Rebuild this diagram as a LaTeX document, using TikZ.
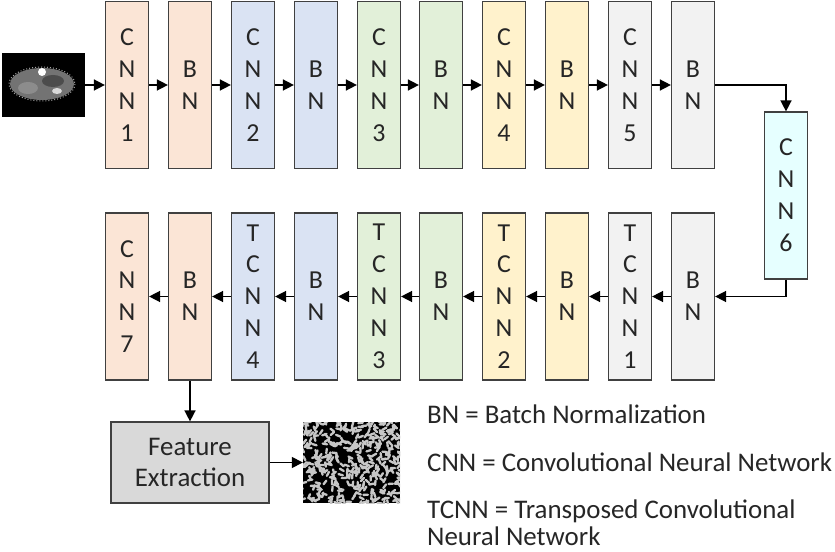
\documentclass[tikz,border=0pt]{standalone}
\usepackage{fontspec}
\setmainfont{Carlito}
\usetikzlibrary{arrows.meta}
\definecolor{peach}{HTML}{FBE5D6}
\definecolor{paleblue}{HTML}{DAE3F3}
\definecolor{palegreen}{HTML}{E2F0D9}
\definecolor{paleyellow}{HTML}{FFF2CC}
\definecolor{palegray}{HTML}{F2F2F2}
\definecolor{palecyan}{HTML}{E6FFFF}
\definecolor{featgray}{HTML}{D9D9D9}
\begin{document}
\begin{tikzpicture}[x=1bp,y=-1bp,
        blk/.style={draw=black!75,line width=1.2bp,minimum width=43bp,minimum height=167bp,
            inner sep=0pt,align=center,text=black!85,font=\fontsize{26}{32}\selectfont},
        arr/.style={-{Triangle[length=11bp,width=11bp]},line width=1.5bp},
        lgd/.style={anchor=base west,inner sep=0pt,text=black!85,font=\fontsize{27}{30}\selectfont}]
        \useasboundingbox (0,0) rectangle (835,552);

        % input slice
        \node[fill=black,minimum width=83bp,minimum height=64bp,inner sep=0pt] (ct) at (43.5,85) {};
        \fill[black!55] (42,84) ellipse (32 and 16);
        \draw[black!35,line width=1bp,dotted] (42,84) ellipse (33 and 17);
        \fill[black!70] (53,81) ellipse (11 and 6);
        \fill[black!45] (28,88) ellipse (10 and 6);
        \fill[white] (42,72) circle (4);
        \fill[black!15] (57,91) ellipse (5 and 3);

        % top row
        \node[blk,fill=peach] (cnnA) at (127,85) {C\\N\\N\\1};
        \node[blk,fill=peach] (bnA) at (190,85) {B\\N};
        \node[blk,fill=paleblue] (cnnB) at (253,85) {C\\N\\N\\2};
        \node[blk,fill=paleblue] (bnB) at (316,85) {B\\N};
        \node[blk,fill=palegreen] (cnnC) at (379,85) {C\\N\\N\\3};
        \node[blk,fill=palegreen] (bnC) at (441,85) {B\\N};
        \node[blk,fill=paleyellow] (cnnD) at (504,85) {C\\N\\N\\4};
        \node[blk,fill=paleyellow] (bnD) at (567,85) {B\\N};
        \node[blk,fill=palegray] (cnnE) at (630,85) {C\\N\\N\\5};
        \node[blk,fill=palegray] (bnE) at (693,85) {B\\N};

        \node[blk,fill=palecyan] (cnnF) at (786,195.5) {C\\N\\N\\6};

        % bottom row
        \node[blk,fill=palegray] (bnF) at (693,296.5) {B\\N};
        \node[blk,fill=palegray] (tcnnA) at (630,296.5) {T\\C\\N\\N\\1};
        \node[blk,fill=paleyellow] (bnG) at (567,296.5) {B\\N};
        \node[blk,fill=paleyellow] (tcnnB) at (504,296.5) {T\\C\\N\\N\\2};
        \node[blk,fill=palegreen] (bnH) at (441,296.5) {B\\N};
        \node[blk,fill=palegreen] (tcnnC) at (379,296.5) {T\\C\\N\\N\\3};
        \node[blk,fill=paleblue] (bnI) at (316,296.5) {B\\N};
        \node[blk,fill=paleblue] (tcnnD) at (253,296.5) {T\\C\\N\\N\\4};
        \node[blk,fill=peach] (bnJ) at (190,296.5) {B\\N};
        \node[blk,fill=peach] (cnnG) at (127,296.5) {C\\N\\N\\7};

        % feature extraction
        \node[draw=black!75,line width=1.2bp,fill=featgray,minimum width=158bp,minimum height=81bp,
            align=center,text=black!85,font=\fontsize{27}{32}\selectfont] (feat) at (190,462.5) {Feature\\Extraction};
        \node[fill=black,minimum width=97bp,minimum height=81bp,inner sep=0pt] (tex) at (351.5,462.5) {};
        \begin{scope}
            \clip (303,422) rectangle (400,503);
            \pgfmathsetseed{41}
            \foreach \i in {1,...,420} {
                \pgfmathsetmacro\px{300+103*rnd}
                \pgfmathsetmacro\py{419+87*rnd}
                \pgfmathsetmacro\pa{360*rnd}
                \draw[black!22,line width=2.3bp,line cap=round] (\px,\py) -- ++(\pa:4.5);
            }
        \end{scope}

        % arrows
        \draw[arr] (ct) -- (cnnA);
        \draw[arr] (cnnA) -- (bnA);
        \draw[arr] (bnA) -- (cnnB);
        \draw[arr] (cnnB) -- (bnB);
        \draw[arr] (bnB) -- (cnnC);
        \draw[arr] (cnnC) -- (bnC);
        \draw[arr] (bnC) -- (cnnD);
        \draw[arr] (cnnD) -- (bnD);
        \draw[arr] (bnD) -- (cnnE);
        \draw[arr] (cnnE) -- (bnE);
        \draw[arr] (bnE.east) -| (cnnF.north);
        \draw[arr] (cnnF.south) |- (bnF.east);
        \draw[arr] (bnF) -- (tcnnA);
        \draw[arr] (tcnnA) -- (bnG);
        \draw[arr] (bnG) -- (tcnnB);
        \draw[arr] (tcnnB) -- (bnH);
        \draw[arr] (bnH) -- (tcnnC);
        \draw[arr] (tcnnC) -- (bnI);
        \draw[arr] (bnI) -- (tcnnD);
        \draw[arr] (tcnnD) -- (bnJ);
        \draw[arr] (bnJ) -- (cnnG);
        \draw[arr] (bnJ) -- (feat);
        \draw[arr] (feat) -- (tex);

        % legend
        \node[lgd] (lgA) at (427,423) {BN = Batch Normalization};
        \node[lgd] (lgB) at (427,471) {CNN = Convolutional Neural Network};
        \node[lgd] (lgC) at (427,518) {TCNN = Transposed Convolutional};
        \node[lgd] (lgD) at (427,545) {Neural Network};
    \end{tikzpicture}
\end{document}
